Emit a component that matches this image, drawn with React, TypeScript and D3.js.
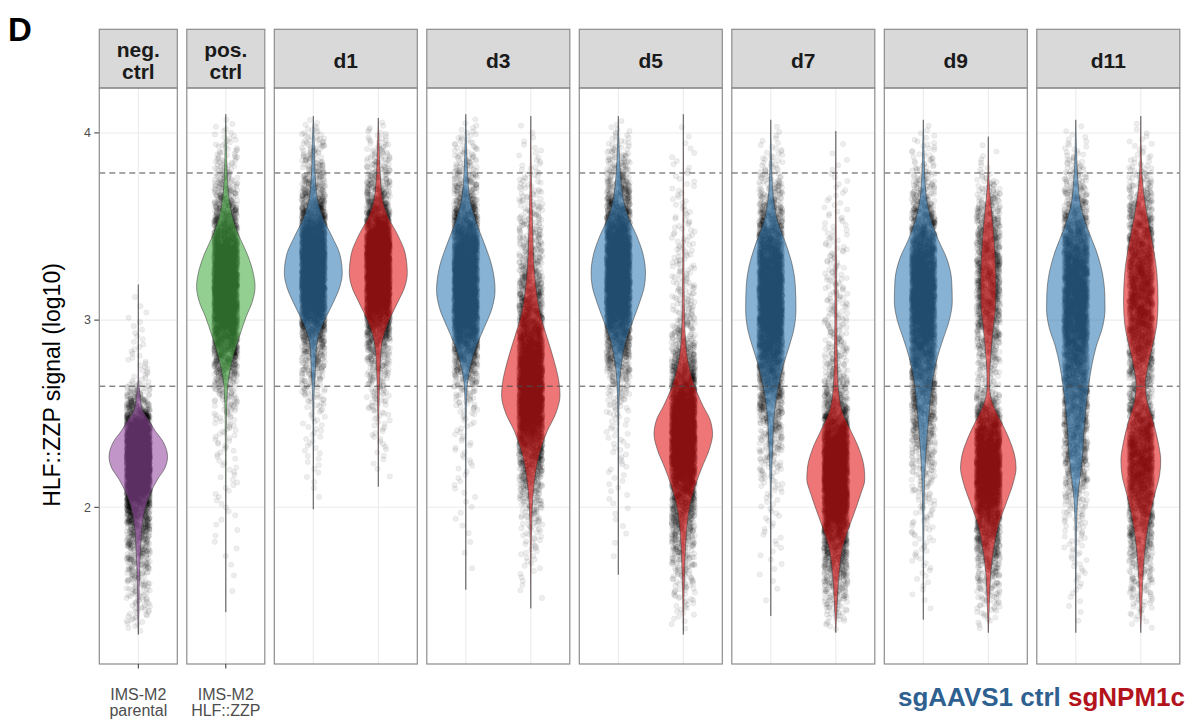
import React, { useMemo } from "react";
import * as d3 from "d3";

// ---------- data ----------
const FACETS = ["neg.\nctrl", "pos.\nctrl", "d1", "d3", "d5", "d7", "d9", "d11"];
const FACET_NCAT = [1, 1, 2, 2, 2, 2, 2, 2];
const Y_TICKS = [2, 3, 4];
const THRESHOLDS = [3.786, 2.647];
const X_LABELS = ["IMS-M2\nparental", "IMS-M2\nHLF::ZZP"];
const LEGEND = ["sgAAVS1 ctrl", "sgNPM1c"];

// violin profiles: [log10 signal, relative half-width], top to bottom
const negCtrl: [number, number][] = [[3.19, 0], [2.9, 0.005], [2.68, 0.01], [2.6, 0.06], [2.52, 0.14], [2.47, 0.34], [2.41, 0.57], [2.35, 0.85], [2.27, 1.0], [2.21, 0.91], [2.15, 0.66], [2.07, 0.4], [1.99, 0.23], [1.87, 0.11], [1.76, 0.07], [1.58, 0.03], [1.4, 0.015], [1.32, 0]];
const posCtrl: [number, number][] = [[4.1, 0], [3.94, 0.02], [3.79, 0.045], [3.65, 0.11], [3.55, 0.23], [3.45, 0.45], [3.35, 0.74], [3.25, 0.94], [3.18, 1.0], [3.1, 0.91], [3.02, 0.7], [2.92, 0.48], [2.82, 0.28], [2.7, 0.11], [2.64, 0.06], [2.47, 0.02], [2.27, 0.01], [1.9, 0.004], [1.44, 0]];
const d1Ctrl: [number, number][] = [[4.09, 0], [3.94, 0.035], [3.79, 0.06], [3.65, 0.14], [3.55, 0.32], [3.45, 0.63], [3.35, 0.91], [3.25, 0.99], [3.18, 0.91], [3.1, 0.7], [3.02, 0.45], [2.94, 0.23], [2.86, 0.11], [2.74, 0.07], [2.64, 0.035], [2.5, 0.012], [2.2, 0.005], [1.99, 0]];
const d1Npm: [number, number][] = [[4.08, 0], [3.94, 0.025], [3.79, 0.06], [3.65, 0.14], [3.55, 0.34], [3.45, 0.68], [3.35, 0.93], [3.25, 0.99], [3.18, 0.91], [3.1, 0.68], [3.02, 0.43], [2.94, 0.23], [2.86, 0.11], [2.74, 0.06], [2.64, 0.035], [2.47, 0.012], [2.11, 0]];
const d3Ctrl: [number, number][] = [[4.1, 0], [3.94, 0.025], [3.79, 0.06], [3.65, 0.14], [3.53, 0.34], [3.41, 0.63], [3.29, 0.89], [3.16, 1.0], [3.06, 0.89], [2.96, 0.63], [2.86, 0.36], [2.76, 0.17], [2.64, 0.045], [2.47, 0.012], [2.0, 0.004], [1.56, 0]];
const d3Npm: [number, number][] = [[4.09, 0], [3.85, 0.012], [3.65, 0.035], [3.45, 0.07], [3.29, 0.11], [3.16, 0.19], [3.02, 0.34], [2.9, 0.57], [2.78, 0.8], [2.66, 0.97], [2.6, 1.0], [2.5, 0.85], [2.41, 0.57], [2.31, 0.34], [2.19, 0.17], [2.07, 0.08], [1.87, 0.023], [1.65, 0.008], [1.46, 0]];
const d5Ctrl: [number, number][] = [[4.09, 0], [3.94, 0.023], [3.79, 0.07], [3.65, 0.17], [3.55, 0.34], [3.45, 0.63], [3.35, 0.85], [3.25, 0.93], [3.18, 0.89], [3.1, 0.74], [3.0, 0.51], [2.9, 0.28], [2.8, 0.14], [2.66, 0.045], [2.47, 0.012], [2.0, 0.004], [1.64, 0]];
const d5Npm: [number, number][] = [[4.1, 0], [3.57, 0.012], [3.25, 0.023], [3.06, 0.035], [2.9, 0.07], [2.8, 0.14], [2.7, 0.28], [2.62, 0.45], [2.54, 0.68], [2.47, 0.91], [2.39, 1.0], [2.31, 0.89], [2.21, 0.63], [2.11, 0.4], [2.01, 0.23], [1.87, 0.11], [1.72, 0.057], [1.54, 0.023], [1.32, 0]];
const d7Ctrl: [number, number][] = [[4.07, 0], [3.94, 0.012], [3.79, 0.035], [3.65, 0.09], [3.53, 0.23], [3.41, 0.51], [3.29, 0.74], [3.18, 0.84], [3.06, 0.86], [2.96, 0.8], [2.86, 0.63], [2.76, 0.43], [2.66, 0.28], [2.56, 0.17], [2.47, 0.11], [2.35, 0.07], [2.21, 0.035], [2.07, 0.012], [1.42, 0]];
const d7Npm: [number, number][] = [[4.01, 0], [3.51, 0.012], [3.25, 0.023], [2.96, 0.035], [2.74, 0.057], [2.6, 0.11], [2.5, 0.25], [2.41, 0.51], [2.31, 0.8], [2.21, 0.97], [2.15, 0.99], [2.07, 0.85], [1.97, 0.63], [1.87, 0.4], [1.78, 0.23], [1.64, 0.11], [1.48, 0.045], [1.33, 0]];
const d9Ctrl: [number, number][] = [[4.07, 0], [3.91, 0.023], [3.79, 0.045], [3.65, 0.11], [3.53, 0.28], [3.43, 0.51], [3.33, 0.8], [3.21, 0.97], [3.1, 0.99], [3.0, 0.89], [2.9, 0.68], [2.8, 0.48], [2.68, 0.32], [2.56, 0.23], [2.43, 0.16], [2.29, 0.09], [2.15, 0.045], [1.97, 0.023], [1.4, 0]];
const d9Npm: [number, number][] = [[3.98, 0], [3.79, 0.012], [3.65, 0.07], [3.49, 0.17], [3.35, 0.23], [3.21, 0.26], [3.08, 0.25], [2.96, 0.17], [2.82, 0.09], [2.7, 0.045], [2.64, 0.045], [2.56, 0.14], [2.47, 0.4], [2.37, 0.7], [2.27, 0.91], [2.21, 0.95], [2.13, 0.85], [2.03, 0.63], [1.91, 0.36], [1.79, 0.2], [1.66, 0.09], [1.48, 0.034], [1.33, 0]];
const d11Ctrl: [number, number][] = [[4.07, 0], [3.91, 0.023], [3.75, 0.07], [3.61, 0.17], [3.49, 0.4], [3.37, 0.7], [3.25, 0.91], [3.14, 0.99], [3.06, 1.0], [2.96, 0.91], [2.86, 0.7], [2.76, 0.55], [2.64, 0.43], [2.52, 0.34], [2.41, 0.28], [2.27, 0.23], [2.15, 0.14], [2.03, 0.057], [1.87, 0.023], [1.33, 0]];
const d11Npm: [number, number][] = [[4.09, 0], [3.85, 0.023], [3.69, 0.09], [3.55, 0.23], [3.41, 0.4], [3.25, 0.55], [3.1, 0.59], [2.98, 0.55], [2.86, 0.4], [2.74, 0.23], [2.66, 0.16], [2.58, 0.2], [2.47, 0.4], [2.35, 0.59], [2.25, 0.68], [2.17, 0.64], [2.07, 0.48], [1.96, 0.32], [1.84, 0.19], [1.68, 0.09], [1.48, 0.034], [1.33, 0]];

const PURPLE = "#984EA3";
const GREEN = "#4DAF4A";
const BLUE = "#377EB8";
const RED = "#E41A1C";

type Group = { facet: number; pos: number; color: string; profile: [number, number][] };
const GROUPS: Group[] = [
  { facet: 0, pos: 1, color: PURPLE, profile: negCtrl },
  { facet: 1, pos: 1, color: GREEN, profile: posCtrl },
  { facet: 2, pos: 1, color: BLUE, profile: d1Ctrl },
  { facet: 2, pos: 2, color: RED, profile: d1Npm },
  { facet: 3, pos: 1, color: BLUE, profile: d3Ctrl },
  { facet: 3, pos: 2, color: RED, profile: d3Npm },
  { facet: 4, pos: 1, color: BLUE, profile: d5Ctrl },
  { facet: 4, pos: 2, color: RED, profile: d5Npm },
  { facet: 5, pos: 1, color: BLUE, profile: d7Ctrl },
  { facet: 5, pos: 2, color: RED, profile: d7Npm },
  { facet: 6, pos: 1, color: BLUE, profile: d9Ctrl },
  { facet: 6, pos: 2, color: RED, profile: d9Npm },
  { facet: 7, pos: 1, color: BLUE, profile: d11Ctrl },
  { facet: 7, pos: 2, color: RED, profile: d11Npm },
];

// ---------- layout ----------
const W = 1194, H = 724;
const PLOT_LEFT = 99.3, PLOT_RIGHT = 1179.8, GAP = 9.5;
const PANEL_TOP = 88, PANEL_BOTTOM = 664;
const STRIP_TOP = 29.3;
const FONT = "'Liberation Sans', Arial, Helvetica, sans-serif";
const N_POINTS = 5000;
const JITTER = 0.18;

const unit = (PLOT_RIGHT - PLOT_LEFT - GAP * (FACETS.length - 1)) / d3.sum(FACET_NCAT, (n) => n + 0.2);
const panels = (() => {
  let x = PLOT_LEFT;
  return FACET_NCAT.map((n, i) => {
    const w = (n + 0.2) * unit;
    const sc = d3.scaleLinear().domain([0.4, n + 0.6]).range([x, x + w]);
    const p = { x0: x, x1: x + w, n, sc, label: FACETS[i] };
    x += w + GAP;
    return p;
  });
})();

const y = d3.scaleLinear().domain([1.163, 4.24]).range([PANEL_BOTTOM, PANEL_TOP]);

function fract(v: number) { return v - Math.floor(v); }
// deterministic hash used only to spread the jitter horizontally
function hash01(i: number) { return fract(Math.sin(i * 12.9898 + 78.233) * 43758.5453); }

function samplePoints(profile: [number, number][], n: number, seed: number) {
  const vals = profile.map((p) => p[0]);
  const wid = profile.map((p) => p[1]);
  const wAt = d3.scaleLinear().domain(vals).range(wid).clamp(true);
  const lo = d3.min(vals)!, hi = d3.max(vals)!;
  const steps = 800;
  const grid: number[] = [];
  const cdf: number[] = [0];
  for (let k = 0; k <= steps; k++) grid.push(lo + ((hi - lo) * k) / steps);
  for (let k = 0; k < steps; k++) cdf.push(cdf[k] + wAt((grid[k] + grid[k + 1]) / 2));
  const total = cdf[steps];
  const pts: [number, number][] = [];
  for (let i = 0; i < n; i++) {
    const q = ((i + 0.5) / n) * total;
    let k = d3.bisectLeft(cdf, q);
    if (k < 1) k = 1;
    if (k > steps) k = steps;
    const c0 = cdf[k - 1], c1 = cdf[k];
    const t = c1 > c0 ? (q - c0) / (c1 - c0) : 0.5;
    const v = grid[k - 1] + t * (grid[k] - grid[k - 1]);
    const j = (hash01(i + seed * 7919) * 2 - 1) * JITTER;
    pts.push([j, v]);
  }
  return pts;
}

export default function App() {
  const halfMax = 0.45 * unit;
  const computed = useMemo(
    () =>
      GROUPS.map((g, gi) => {
        const p = panels[g.facet];
        const cx = p.sc(g.pos);
        const pts = samplePoints(g.profile, N_POINTS, gi + 1);
        const area = d3
          .area<[number, number]>()
          .y((d) => y(d[0]))
          .x0((d) => cx - d[1] * halfMax)
          .x1((d) => cx + d[1] * halfMax)
          .curve(d3.curveMonotoneY);
        return { g, cx, pts, path: area(g.profile) || "" };
      }),
    []
  );

  return (
    <svg width={W} height={H} style={{ position: "absolute", left: 0, top: 0, background: "#fff" }} fontFamily={FONT}>
      <rect x={0} y={0} width={W} height={H} fill="#fff" />
      <text x={8} y={41} fontSize={33} fontWeight="bold" fill="#000">D</text>
      <text transform={`translate(60,385) rotate(-90)`} textAnchor="middle" fontSize={23} fill="#000">HLF::ZZP signal (log10)</text>

      {/* y axis */}
      {Y_TICKS.map((t) => (
        <g key={t}>
          <line x1={94.3} x2={PLOT_LEFT} y1={y(t)} y2={y(t)} stroke="#333" strokeWidth={1} />
          <text x={91} y={y(t)} dy="0.35em" textAnchor="end" fontSize={12.5} fill="#4d4d4d">{t}</text>
        </g>
      ))}

      {panels.map((p, i) => {
        const lines = p.label.split("\n");
        return (
          <g key={i}>
            <rect x={p.x0} y={PANEL_TOP} width={p.x1 - p.x0} height={PANEL_BOTTOM - PANEL_TOP} fill="#fff" />
            {Y_TICKS.map((t) => (
              <line key={t} x1={p.x0} x2={p.x1} y1={y(t)} y2={y(t)} stroke="#ebebeb" strokeWidth={1.1} />
            ))}
            {d3.range(1, p.n + 1).map((c) => (
              <line key={c} x1={p.sc(c)} x2={p.sc(c)} y1={PANEL_TOP} y2={PANEL_BOTTOM} stroke="#ebebeb" strokeWidth={1.1} />
            ))}
            <rect x={p.x0} y={STRIP_TOP} width={p.x1 - p.x0} height={PANEL_TOP - STRIP_TOP} fill="#d9d9d9" stroke="#8c8c8c" strokeWidth={1.2} />
            {lines.length === 1 ? (
              <text x={(p.x0 + p.x1) / 2} y={67.5} textAnchor="middle" fontSize={21} fontWeight="bold" fill="#1a1a1a">{lines[0]}</text>
            ) : (
              lines.map((l, k) => (
                <text key={k} x={(p.x0 + p.x1) / 2} y={56.7 + k * 22.6} textAnchor="middle" fontSize={21} fontWeight="bold" fill="#1a1a1a">{l}</text>
              ))
            )}
          </g>
        );
      })}

      {/* points */}
      {computed.map(({ cx, pts }, gi) => (
        <g key={"p" + gi} fill="#000" fillOpacity={0.07} stroke="#000" strokeOpacity={0.08} strokeWidth={0.6}>
          {pts.map((d, k) => (
            <circle key={k} cx={cx + d[0] * unit} cy={y(d[1])} r={2.7} />
          ))}
        </g>
      ))}

      {/* violins */}
      {computed.map(({ g, path }, gi) => (
        <path key={"v" + gi} d={path} fill={g.color} fillOpacity={0.6} stroke="#333" strokeWidth={0.6} strokeOpacity={0.85} />
      ))}

      {/* threshold lines */}
      {panels.map((p, i) =>
        THRESHOLDS.map((t) => (
          <line key={i + "-" + t} x1={p.x0} x2={p.x1} y1={y(t)} y2={y(t)} stroke="#4d4d4d" strokeWidth={1} strokeDasharray="6,4" />
        ))
      )}

      {/* panel borders */}
      {panels.map((p, i) => (
        <rect key={"b" + i} x={p.x0} y={PANEL_TOP} width={p.x1 - p.x0} height={PANEL_BOTTOM - PANEL_TOP} fill="none" stroke="#8c8c8c" strokeWidth={1.2} />
      ))}

      {/* bottom x axis for control panels */}
      {X_LABELS.map((lab, i) => {
        const cx = panels[i].sc(1);
        return (
          <g key={"x" + i}>
            <line x1={cx} x2={cx} y1={PANEL_BOTTOM} y2={PANEL_BOTTOM + 4.5} stroke="#333" strokeWidth={1} />
            {lab.split("\n").map((l, k) => (
              <text key={k} x={cx} y={699.5 + k * 16} textAnchor="middle" fontSize={16} fill="#4d4d4d">{l}</text>
            ))}
          </g>
        );
      })}

      <text x={1185} y={705.5} textAnchor="end" fontSize={26} fontWeight="bold" style={{ whiteSpace: "pre" }}>
        <tspan fill="#2e6190">{LEGEND[0] + " "}</tspan>
        <tspan fill="#b3141c">{LEGEND[1]}</tspan>
      </text>
    </svg>
  );
}
